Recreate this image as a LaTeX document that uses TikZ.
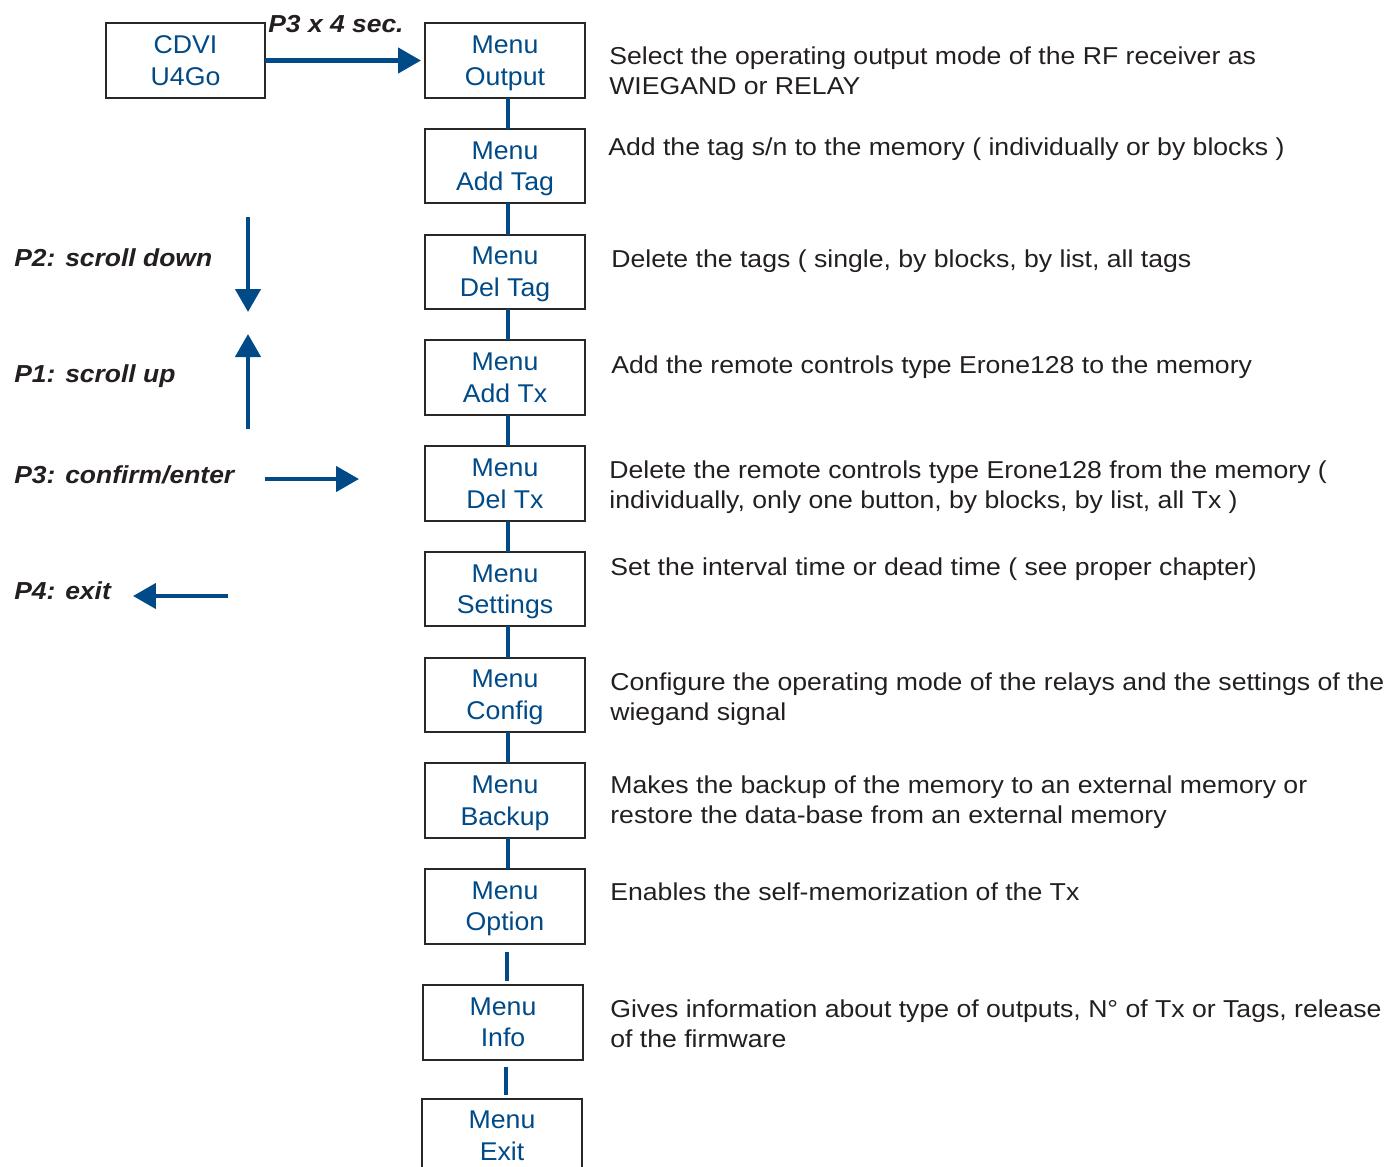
\documentclass[tikz,border=0pt]{standalone}
\usepackage{fontspec}
\setmainfont{Liberation Sans}
\newfontfamily\descfont[FakeStretch=1.09]{Liberation Sans}
\newfontfamily\menufont[FakeStretch=1.04]{Liberation Sans}
\newfontfamily\keyfont[FakeStretch=1.075]{Liberation Sans}
\usetikzlibrary{positioning}
\usetikzlibrary{arrows.meta}
\definecolor{cdviblue}{RGB}{0,74,135}
\definecolor{txtgray}{RGB}{35,31,32}
\definecolor{boxgray}{RGB}{40,40,40}

\begin{document}
\begin{tikzpicture}[x=0.02cm,y=-0.02cm,>={Triangle[length=0.46cm,width=0.5cm]},
	menubox/.style={minimum width=3.2cm,minimum height=1.49cm,inner sep=0pt,outer sep=0pt,text depth=0pt,draw=boxgray,line width=0.04cm,align=center,text=cdviblue,font=\menufont\fontsize{14.6}{18}\selectfont},
	desc/.style={anchor=base west,inner sep=0pt,align=left,text=txtgray,font=\descfont\fontsize{13.9}{17.07}\selectfont},
	keylbl/.style={anchor=base west,inner sep=0pt,text=txtgray,font=\keyfont\fontsize{14}{17}\selectfont\bfseries\itshape},
	link/.style={draw=cdviblue,line width=0.09cm},
	keyarrow/.style={->,draw=cdviblue,line width=0.09cm}]
	\useasboundingbox (0,0) rectangle (1388,1166);

	\node [menubox] at (185.5,60.5) (cdvi) {CDVI\\U4Go};
	\node [menubox] at (505,60.5) (m_output) {Menu\\Output};
	\node [menubox,below=0.625cm of m_output] (m_addtag) {Menu\\Add Tag};
	\node [menubox,below=0.625cm of m_addtag] (m_deltag) {Menu\\Del Tag};
	\node [menubox,below=0.625cm of m_deltag] (m_addtx) {Menu\\Add Tx};
	\node [menubox,below=0.625cm of m_addtx] (m_deltx) {Menu\\Del Tx};
	\node [menubox,below=0.625cm of m_deltx] (m_settings) {Menu\\Settings};
	\node [menubox,below=0.625cm of m_settings] (m_config) {Menu\\Config};
	\node [menubox,below=0.625cm of m_config] (m_backup) {Menu\\Backup};
	\node [menubox,below=0.625cm of m_backup] (m_option) {Menu\\Option};
	\node [menubox,below=0.83cm of m_option,xshift=-0.04cm] (m_info) {Menu\\Info};
	\node [menubox,below=0.78cm of m_info,xshift=-0.02cm] (m_exit) {Menu\\Exit};

	\foreach \upper/\lower in {m_output/m_addtag,m_addtag/m_deltag,m_deltag/m_addtx,m_addtx/m_deltx,m_deltx/m_settings,m_settings/m_config,m_config/m_backup,m_backup/m_option}
		\draw [link] ([xshift=0.06cm]\upper.south) -- ([xshift=0.06cm]\lower.north);
	\draw [link,shorten <=0.16cm,shorten >=0.08cm] ([xshift=0.04cm]m_option.south) -- ([xshift=0.04cm]m_option.south |- m_info.north);
	\draw [link,shorten <=0.14cm,shorten >=0.08cm] ([xshift=0.06cm]m_info.south) -- ([xshift=0.06cm]m_info.south |- m_exit.north);

	\node [keylbl] at (268,33) (p3_hold) {P3 x 4 sec.};
	\draw [keyarrow,shorten >=0.08cm] (cdvi) -- (m_output);

	\node [desc] at (609,94) (d_output) {Select the operating output mode of the RF receiver as\\WIEGAND or RELAY};
	\node [desc] at (608,155) (d_addtag) {Add the tag s/n to the memory ( individually or by blocks )};
	\node [desc] at (611,267) (d_deltag) {Delete the tags ( single, by blocks, by list, all tags};
	\node [desc] at (611,373) (d_addtx) {Add the remote controls type Erone128 to the memory};
	\node [desc] at (609,508) (d_deltx) {Delete the remote controls type Erone128 from the memory (\\individually, only one button, by blocks, by list, all Tx )};
	\node [desc] at (610,575) (d_settings) {Set the interval time or dead time ( see proper chapter)};
	\node [desc] at (610,720) (d_config) {Configure the operating mode of the relays and the settings of the\\wiegand signal};
	\node [desc] at (610,823) (d_backup) {Makes the backup of the memory to an external memory or\\restore the data-base from an external memory};
	\node [desc] at (610,900) (d_option) {Enables the self-memorization of the Tx};
	\node [desc] at (610,1047) (d_info) {Gives information about type of outputs, N° of Tx or Tags, release\\of the firmware};

	\node [keylbl] at (14,266) (k_down) {P2: scroll down};
	\node [keylbl] at (14,382) (k_up) {P1: scroll up};
	\node [keylbl] at (14,483) (k_enter) {P3: confirm/enter};
	\node [keylbl] at (14,599) (k_exit) {P4: exit};

	\coordinate (dn_from) at (248,217);
	\coordinate (dn_to) at (248,312);
	\coordinate (up_from) at (248,429);
	\coordinate (up_to) at (248,334);
	\coordinate (ent_from) at (265,479);
	\coordinate (ent_to) at (359,479);
	\coordinate (ex_from) at (228,596);
	\coordinate (ex_to) at (133,596);
	\draw [keyarrow] (dn_from) -- (dn_to);
	\draw [keyarrow] (up_from) -- (up_to);
	\draw [keyarrow] (ent_from) -- (ent_to);
	\draw [keyarrow] (ex_from) -- (ex_to);
\end{tikzpicture}
\end{document}
